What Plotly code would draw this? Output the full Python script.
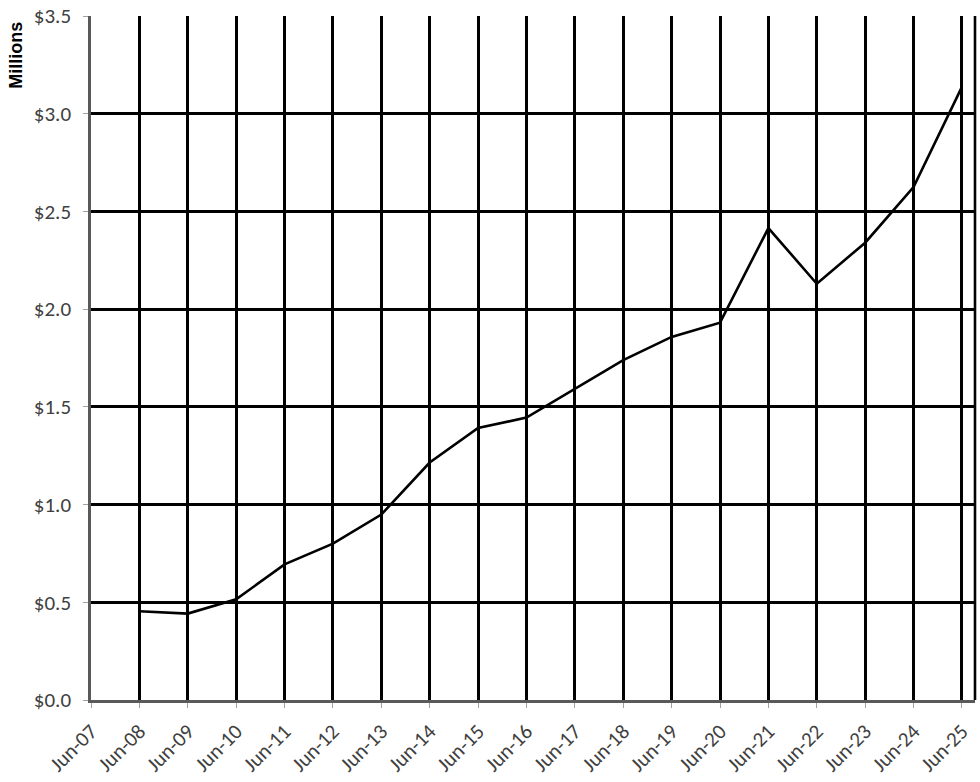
import plotly.graph_objects as go

# x categories, Jun-07 .. Jun-25
periods = ["Jun-%02d" % y for y in range(7, 26)]
# values in $ millions, Jun-08 .. Jun-25
value_periods = periods[1:]
values = [0.454, 0.442, 0.515, 0.694, 0.80, 0.949, 1.215, 1.392, 1.445,
          1.594, 1.739, 1.858, 1.931, 2.415, 2.13, 2.34, 2.625, 3.137]
y_ticks = [0, 0.5, 1.0, 1.5, 2.0, 2.5, 3.0, 3.5]
y_labels = ["$%.1f" % v for v in y_ticks]

fig = go.Figure()
fig.add_trace(go.Scatter(x=value_periods, y=values, mode="lines",
                         line=dict(color="black", width=2.6),
                         showlegend=False))

fig.update_layout(
    width=980, height=782,
    margin=dict(l=91, r=5, t=16, b=82),
    plot_bgcolor="white", paper_bgcolor="white",
    font=dict(family="Carlito, Lato, sans-serif", size=21, color="#404040"),
)
fig.update_xaxes(
    type="category", categoryorder="array", categoryarray=periods,
    range=[0, 18.27], tickangle=-45, automargin=False,
    showgrid=True, gridcolor="black", gridwidth=2.6,
    showline=True, linecolor="#595959", linewidth=2.5,
    ticks="outside", ticklen=5, tickcolor="#a0a0a0", tickwidth=1,
    ticklabelstandoff=3, zeroline=False,
)
fig.update_yaxes(
    range=[0, 3.5], tickvals=y_ticks, ticktext=y_labels, automargin=False,
    showgrid=True, gridcolor="black", gridwidth=2.6,
    showline=True, linecolor="#595959", linewidth=2.5,
    ticks="outside", ticklen=5, tickcolor="#a0a0a0", tickwidth=1,
    ticklabelstandoff=8, zeroline=False,
)
# right edge of plot area
fig.add_shape(type="line", xref="paper", yref="paper", x0=1, x1=1, y0=0, y1=1,
              line=dict(color="black", width=2.6))
fig.add_annotation(text="<b>Millions</b>", xref="paper", yref="paper",
                   x=-0.085, y=0.943, textangle=-90, showarrow=False,
                   xanchor="center", yanchor="middle",
                   font=dict(family="Liberation Sans, Arial, sans-serif", size=18, color="black"))

# drop the default page margin so the chart sits at the window's corner
fig.write_html("out.html", config={"displayModeBar": False},
               post_script="document.body.style.margin='0';")
